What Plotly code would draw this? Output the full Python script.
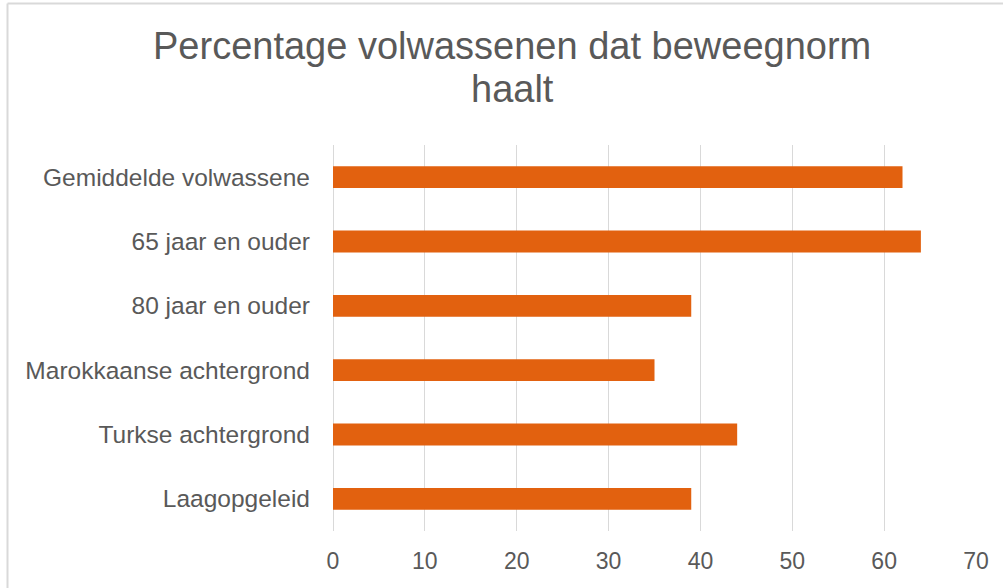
import plotly.graph_objects as go

# Share of adults meeting the physical activity guideline (%)
categories = [
    "Gemiddelde volwassene",
    "65 jaar en ouder",
    "80 jaar en ouder",
    "Marokkaanse achtergrond",
    "Turkse achtergrond",
    "Laagopgeleid",
]
values = [62, 64, 39, 35, 44, 39]
x_ticks = [0, 10, 20, 30, 40, 50, 60, 70]

title_line1 = "Percentage volwassenen dat beweegnorm"
title_line2 = "haalt"

W, H = 1003, 588
ML, MR, MT, MB = 333, 27, 145, 57
plot_h = H - MT - MB
plot_w = W - ML - MR


def py_to_paper(py):
    return (H - MB - py) / plot_h


def px_to_paper(px):
    return (px - ML) / plot_w


TEXT = "#595959"
FONT = "Arial, Liberation Sans, sans-serif"

fig = go.Figure(
    go.Bar(
        x=values,
        y=categories,
        orientation="h",
        width=0.34,
        marker=dict(color="#E2610F", line=dict(width=0)),
        hoverinfo="x+y",
    )
)

fig.update_layout(
    width=W,
    height=H,
    margin=dict(l=ML, r=MR, t=MT, b=MB, pad=0),
    paper_bgcolor="white",
    plot_bgcolor="white",
    showlegend=False,
    font=dict(family=FONT, color=TEXT),
    xaxis=dict(
        range=[0, 70],
        tickvals=x_ticks,
        ticktext=[str(v) for v in x_ticks],
        showgrid=True,
        gridcolor="#D9D9D9",
        gridwidth=1,
        zeroline=True,
        zerolinecolor="#D9D9D9",
        zerolinewidth=1,
        showline=False,
        ticks="",
        ticklabelstandoff=14,
        tickfont=dict(size=23, color=TEXT, family=FONT),
        fixedrange=True,
    ),
    yaxis=dict(
        categoryorder="array",
        categoryarray=categories[::-1],
        showgrid=False,
        zeroline=False,
        showline=False,
        ticks="",
        ticklabelstandoff=22,
        tickfont=dict(size=24.5, color=TEXT, family=FONT),
        fixedrange=True,
    ),
    annotations=[
        dict(
            text=title_line1,
            xref="paper", yref="paper",
            x=px_to_paper(512), y=py_to_paper(46),
            xanchor="center", yanchor="middle",
            showarrow=False,
            font=dict(size=38, color=TEXT, family=FONT),
        ),
        dict(
            text=title_line2,
            xref="paper", yref="paper",
            x=px_to_paper(512), y=py_to_paper(89),
            xanchor="center", yanchor="middle",
            showarrow=False,
            font=dict(size=38, color=TEXT, family=FONT),
        ),
    ],
    shapes=[
        # chart frame: top and left edges
        dict(
            type="line", xref="paper", yref="paper",
            x0=px_to_paper(7.5), x1=px_to_paper(W + 5),
            y0=py_to_paper(3.5), y1=py_to_paper(3.5),
            line=dict(color="#D9D9D9", width=2),
        ),
        dict(
            type="line", xref="paper", yref="paper",
            x0=px_to_paper(7.5), x1=px_to_paper(7.5),
            y0=py_to_paper(3.5), y1=py_to_paper(H + 5),
            line=dict(color="#D9D9D9", width=2),
        ),
    ],
)

fig.write_html("out.html", config={"displayModeBar": False})
